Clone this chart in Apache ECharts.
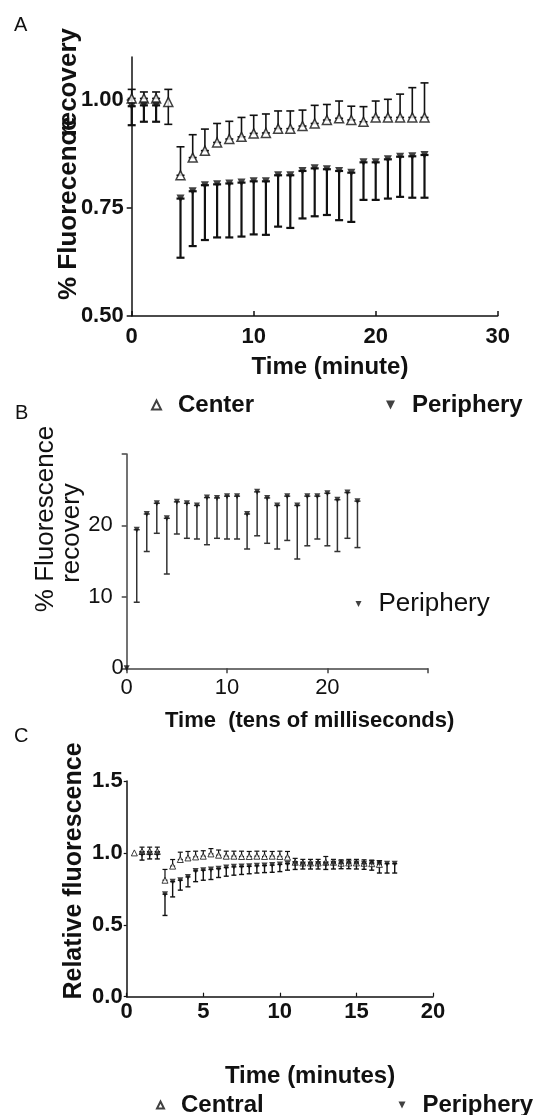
<!DOCTYPE html>
<html>
<head>
<meta charset="utf-8">
<script src="https://cdn.jsdelivr.net/npm/echarts@6/dist/echarts.min.js"></script>
<style>html,body{margin:0;padding:0;background:#fff}#c{width:538px;height:1115px}</style>
</head>
<body>
<div id="c"></div>
<script>
// ---------- Panel A ----------
const timeA = [0,1,2,3,4,5,6,7,8,9,10,11,12,13,14,15,16,17,18,19,20,21,22,23,24];
const centerMeanA = [1.004,1.004,1.004,0.996,0.826,0.867,0.883,0.902,0.910,0.915,0.923,0.924,0.934,0.934,0.940,0.946,0.954,0.958,0.954,0.950,0.960,0.960,0.960,0.960,0.960];
const centerHighA = [1.025,1.019,1.019,1.025,0.892,0.920,0.933,0.946,0.951,0.960,0.965,0.968,0.975,0.975,0.977,0.988,0.990,0.998,0.986,0.985,0.998,1.002,1.014,1.029,1.040];
const centerLowA  = [1.004,1.004,1.004,0.944,0.826,0.867,0.883,0.902,0.910,0.915,0.923,0.924,0.934,0.934,0.940,0.946,0.954,0.958,0.954,0.950,0.960,0.960,0.960,0.960,0.960];
const peripheryMeanA = [0.986,0.988,0.988,null,0.772,0.789,0.803,0.805,0.807,0.809,0.812,0.812,0.826,0.826,0.836,0.842,0.840,0.836,0.832,0.856,0.856,0.863,0.869,0.870,0.873];
const peripheryLowA  = [0.942,0.950,0.950,null,0.635,0.662,0.676,0.682,0.682,0.684,0.689,0.688,0.707,0.704,0.726,0.731,0.734,0.722,0.718,0.769,0.769,0.772,0.776,0.774,0.774];
const yTicksA = [0.5,0.75,1.0];
const xTicksA = [0,10,20,30];

// ---------- Panel B ----------
const timeB = [0,1,2,3,4,5,6,7,8,9,10,11,12,13,14,15,16,17,18,19,20,21,22,23];
const peripheryMeanB = [0,19.4,21.6,23.1,21.0,23.3,23.1,22.8,23.9,23.85,24.1,24.1,21.6,24.7,23.85,22.8,24.1,22.8,24.1,24.1,24.5,23.6,24.6,23.4];
const peripheryLowB  = [0,9.25,16.35,18.9,13.2,18.8,18.2,18.1,17.3,18.2,18.1,18.1,16.7,18.55,17.5,16.7,17.9,15.3,17.15,18.1,17.15,16.35,18.2,16.9];
const yLabelsB = [0,10,20];
const xLabelsB = [0,10,20];

// ---------- Panel C ----------
const timeC = [0.5,1,1.5,2,2.5,3,3.5,4,4.5,5,5.5,6,6.5,7,7.5,8,8.5,9,9.5,10,10.5,11,11.5,12,12.5,13,13.5,14,14.5,15,15.5,16,16.5,17,17.5];
const centralMeanC = [1.00,1.01,1.01,1.01,0.81,0.908,0.954,0.965,0.972,0.977,0.993,0.984,0.977,0.977,0.975,0.975,0.977,0.975,0.977,0.975,0.970,0.935,0.930,0.930,0.930,0.935,0.935,0.928,0.930,0.930,0.928,0.925,0.920,null,null];
const centralHighC = [1.00,1.04,1.04,1.04,0.885,0.954,1.005,1.010,1.012,1.015,1.030,1.020,1.012,1.012,1.012,1.010,1.012,1.012,1.010,1.012,1.010,0.962,0.955,0.955,0.955,0.975,0.955,0.952,0.955,0.955,0.952,0.950,0.945,null,null];
const peripheryMeanC = [null,0.99,0.99,0.99,0.713,0.800,0.810,0.833,0.875,0.880,0.885,0.890,0.898,0.903,0.905,0.907,0.910,0.912,0.915,0.920,0.925,0.922,0.920,0.920,0.922,0.920,0.925,0.928,0.928,0.927,0.925,0.930,0.930,0.925,0.925];
const peripheryLowC  = [null,0.950,0.958,0.958,0.565,0.694,0.741,0.764,0.800,0.810,0.815,0.829,0.838,0.845,0.850,0.855,0.860,0.863,0.865,0.870,0.880,0.885,0.888,0.888,0.888,0.885,0.888,0.890,0.890,0.888,0.886,0.880,0.860,0.860,0.860];

const FONT = 'Liberation Sans';
const INK = '#111';
const DOWN = 'path://M0,0 L10,0 L5,10 Z';

function pairs(xs, ys) {
  const out = [];
  xs.forEach((x, i) => { if (ys[i] != null) out.push([x, ys[i]]); });
  return out;
}
function triples(xs, lo, hi) {
  const out = [];
  xs.forEach((x, i) => { if (lo[i] != null && hi[i] != null) out.push([x, lo[i], hi[i]]); });
  return out;
}
function errBar(capW, lw, color) {
  return function (params, api) {
    const x = api.value(0), lo = api.value(1), hi = api.value(2);
    if (lo === hi) return null;
    const p1 = api.coord([x, lo]), p2 = api.coord([x, hi]);
    const h = capW / 2;
    const st = { stroke: color, lineWidth: lw };
    return { type: 'group', children: [
      { type: 'line', shape: { x1: p1[0], y1: p1[1], x2: p2[0], y2: p2[1] }, style: st },
      { type: 'line', shape: { x1: p1[0] - h, y1: p1[1], x2: p1[0] + h, y2: p1[1] }, style: st },
      { type: 'line', shape: { x1: p2[0] - h, y1: p2[1], x2: p2[0] + h, y2: p2[1] }, style: st }
    ]};
  };
}
function errSeries(name, xi, data, capW, lw, color) {
  return { type: 'custom', name: name, xAxisIndex: xi, yAxisIndex: xi, data: data,
    renderItem: errBar(capW, lw, color), encode: { x: 0, y: [1, 2] }, silent: true, z: 2 };
}
function dotSeries(name, xi, data, size, open, bw) {
  return { type: 'scatter', name: name, xAxisIndex: xi, yAxisIndex: xi, data: data,
    symbol: 'triangle', symbolSize: size, symbolRotate: open ? 0 : 180,
    itemStyle: open ? { color: '#fff', borderColor: INK, borderWidth: bw } : { color: INK },
    silent: true, z: 3 };
}
const strip = n => n.replace(/ \([A-C]\)$/, '');

function legendItem(name, left, top, size, fontSize, weight, down) {
  return { left: left, top: top, padding: 0, itemWidth: size, itemHeight: size, selectedMode: false,
    data: [down ? { name: name, icon: DOWN } : { name: name }], formatter: strip,
    textStyle: { fontSize: fontSize, fontWeight: weight, fontFamily: FONT, color: INK, padding: [0, 0, 0, 12] } };
}

function txt(text, x, y, size, weight, opts) {
  return Object.assign({ type: 'text', x: x, y: y, silent: true,
    style: Object.assign({ text: text, fontSize: size, fontWeight: weight, fontFamily: FONT, fill: INK,
      align: 'left', verticalAlign: 'middle' }, (opts && opts.style) || {}) },
    (opts && opts.el) || {});
}
const R = Math.PI / 2;

const option = {
  animation: false,
  backgroundColor: '#fff',
  grid: [
    { left: 131.7, top: 57, width: 366, height: 259 },
    { left: 126.7, top: 454, width: 301, height: 214.3 },
    { left: 126.7, top: 781, width: 306.3, height: 215.7 }
  ],
  xAxis: [
    { gridIndex: 0, type: 'value', min: 0, max: 30, interval: 10,
      axisLine: { onZero: false, lineStyle: { color: INK, width: 1.5 } },
      axisTick: { inside: true, length: 5, lineStyle: { color: INK, width: 1.5 }, customValues: xTicksA },
      axisLabel: { customValues: xTicksA, fontSize: 22, fontWeight: 'bold', fontFamily: FONT, color: INK, margin: 10 },
      splitLine: { show: false } },
    { gridIndex: 1, type: 'value', min: 0, max: 30, interval: 10,
      axisLine: { onZero: false, lineStyle: { color: '#444', width: 1.5 } },
      axisTick: { inside: false, length: 5, lineStyle: { color: '#444', width: 1.5 } },
      axisLabel: { customValues: xLabelsB, fontSize: 22, fontFamily: FONT, color: INK, margin: 9 },
      splitLine: { show: false } },
    { gridIndex: 2, type: 'value', min: 0, max: 20, interval: 5,
      axisLine: { onZero: false, lineStyle: { color: INK, width: 1.5 } },
      axisTick: { inside: true, length: 4, lineStyle: { color: INK, width: 1.2 } },
      axisLabel: { fontSize: 22, fontWeight: 'bold', fontFamily: FONT, color: INK, margin: 4 },
      splitLine: { show: false } }
  ],
  yAxis: [
    { gridIndex: 0, type: 'value', min: 0.5, max: 1.1, interval: 0.25,
      axisLine: { onZero: false, lineStyle: { color: INK, width: 1.5 } },
      axisTick: { inside: false, length: 5, lineStyle: { color: INK, width: 1.5 }, customValues: yTicksA },
      axisLabel: { customValues: yTicksA, formatter: v => Number(v).toFixed(2), fontSize: 22, fontWeight: 'bold', fontFamily: FONT, color: INK, margin: 8 },
      splitLine: { show: false } },
    { gridIndex: 1, type: 'value', min: 0, max: 30, interval: 10,
      axisLine: { onZero: false, lineStyle: { color: '#444', width: 1.5 } },
      axisTick: { inside: false, length: 5, lineStyle: { color: '#444', width: 1.5 } },
      axisLabel: { customValues: yLabelsB, margin: 3, fontSize: 22, fontFamily: FONT, color: INK,
        formatter: v => Number(v) === 0 ? '{z|0}' : '{n|' + v + '}',
        rich: { z: { fontSize: 22, fontFamily: FONT, color: INK },
                n: { fontSize: 22, fontFamily: FONT, color: INK, padding: [0, 11, 0, 0] } } },
      splitLine: { show: false } },
    { gridIndex: 2, type: 'value', min: 0, max: 1.5, interval: 0.5,
      axisLine: { onZero: false, lineStyle: { color: INK, width: 1.5 } },
      axisTick: { inside: false, length: 3, lineStyle: { color: INK, width: 1.2 } },
      axisLabel: { formatter: v => Number(v).toFixed(1), fontSize: 22, fontWeight: 'bold', fontFamily: FONT, color: INK, margin: 4 },
      splitLine: { show: false } }
  ],
  legend: [
    legendItem('Center', 151, 393, 9, 24, 'bold', false),
    legendItem('Periphery (A)', 386, 393, 9, 24, 'bold', true),
    legendItem('Periphery (B)', 355.5, 591, 6, 26, 'normal', true),
    legendItem('Central', 156, 1093, 7, 24, 'bold', false),
    legendItem('Periphery (C)', 398.5, 1093, 7, 24, 'bold', true)
  ],
  graphic: [
    txt('A', 14, 25, 20, 'normal'),
    txt('B', 15, 413, 20, 'normal'),
    txt('C', 14, 736, 20, 'normal'),
    txt('% Fluorecence', 69, 300, 26, 'bold', { el: { rotation: R } }),
    txt('recovery', 69, 28, 26, 'bold', { el: { rotation: R }, style: { align: 'right' } }),
    txt('Time (minute)', 330, 367, 24, 'bold', { style: { align: 'center' } }),
    txt('% Fluorescence', 46, 519, 26, 'normal', { el: { rotation: R }, style: { align: 'center' } }),
    txt('recovery', 72, 533, 26, 'normal', { el: { rotation: R }, style: { align: 'center' } }),
    txt('Time  (tens of milliseconds)', 165, 721, 22, 'bold'),
    txt('Relative fluorescence', 74, 871, 25, 'bold', { el: { rotation: R }, style: { align: 'center' } }),
    txt('Time (minutes)', 310, 1076, 24, 'bold', { style: { align: 'center' } })
  ],
  series: [
    errSeries('errCenterA', 0, triples(timeA, centerLowA, centerHighA), 8, 1.6, INK),
    errSeries('errPeriA', 0, triples(timeA, peripheryLowA, peripheryMeanA), 8, 2.2, INK),
    dotSeries('Center', 0, pairs(timeA, centerMeanA), [9, 9], true, 1.5),
    dotSeries('Periphery (A)', 0, pairs(timeA, peripheryMeanA), [8, 8], false),
    errSeries('errPeriB', 1, triples(timeB, peripheryLowB, peripheryMeanB), 6, 1.5, '#333'),
    dotSeries('Periphery (B)', 1, pairs(timeB, peripheryMeanB), [6, 6], false),
    errSeries('errCentralC', 2, triples(timeC, centralMeanC, centralHighC), 5, 1.2, INK),
    errSeries('errPeriC', 2, triples(timeC, peripheryLowC, peripheryMeanC), 5, 1.4, INK),
    dotSeries('Central', 2, pairs(timeC, centralMeanC), [6, 6], true, 1),
    dotSeries('Periphery (C)', 2, pairs(timeC, peripheryMeanC), [6, 6], false)
  ]
};

const chart = echarts.init(document.getElementById('c'), null, { renderer: 'canvas' });
chart.setOption(option);
</script>
</body>
</html>
